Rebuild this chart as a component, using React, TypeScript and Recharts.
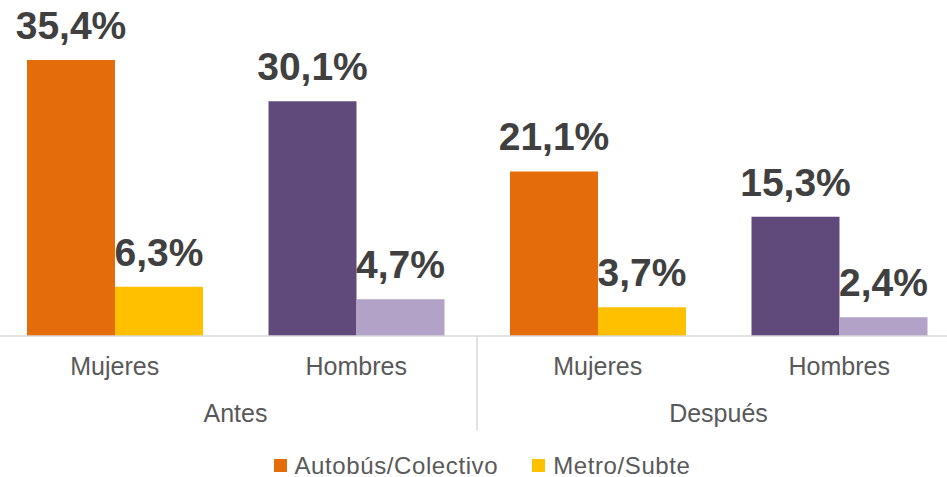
import React from 'react';
import { BarChart, Bar, XAxis, YAxis, LabelList, Legend, Cell } from 'recharts';

const sexes = ['Mujeres', 'Hombres', 'Mujeres', 'Hombres'];
const periods = ['Antes', 'Antes', 'Después', 'Después'];
const autobus = [35.4, 30.1, 21.1, 15.3];
const metro = [6.3, 4.7, 3.7, 2.4];
const seriesNames = ['Autobús/Colectivo', 'Metro/Subte'];
const busColors = ['#E46C0A', '#604A7B', '#E46C0A', '#604A7B'];
const metroColors = ['#FFC000', '#B3A2C7', '#FFC000', '#B3A2C7'];

const data = sexes.map((s, i) => ({
  sex: s,
  period: periods[i],
  bus: autobus[i],
  metro: metro[i],
}));

const FONT = '"Liberation Sans", Arial, sans-serif';
const fmt = (v: any) => `${String(Number(v).toFixed(1)).replace('.', ',')}%`;

const SexTick = (props: any) => {
  const { x, y, payload } = props;
  return (
    <text x={x} y={y + 39} textAnchor="middle" fill="#595959" fontSize={25} fontFamily={FONT}>
      {payload.value}
    </text>
  );
};

const PeriodTick = (props: any) => {
  const { x, y, payload, index } = props;
  const off = payload.offset || 0;
  return (
    <g>
      <text x={x} y={y + 40} textAnchor="middle" fill="#595959" fontSize={25} fontFamily={FONT}>
        {payload.value}
      </text>
      {index > 0 && (
        <line x1={x - off} x2={x - off} y1={y - 46} y2={y + 48} stroke="#d9d9d9" strokeWidth={1.5} />
      )}
    </g>
  );
};

const LegendContent = (props: any) => {
  const { payload } = props;
  return (
    <div style={{ height: 52, position: 'relative' }}>
      <div
        style={{
          position: 'absolute',
          top: 29,
          left: 0,
          right: 0,
          height: 23,
          display: 'flex',
          justifyContent: 'center',
          paddingLeft: 10,
          fontFamily: FONT,
          fontSize: 24,
          letterSpacing: '0.6px',
          color: '#595959',
          lineHeight: '23px',
          whiteSpace: 'nowrap',
        }}
      >
        {(payload || []).map((p: any, i: number) => (
          <div key={i} style={{ display: 'flex', alignItems: 'center', marginLeft: i > 0 ? 34 : 0 }}>
            <span style={{ width: 13, height: 13, background: p.color, display: 'inline-block', marginRight: 8 }} />
            <span>{p.value}</span>
          </div>
        ))}
      </div>
    </div>
  );
};

export default function App() {
  return (
    <div style={{ position: 'absolute', left: 0, top: 0, width: 947, height: 477, overflow: 'hidden', background: '#fff' }}>
      <div style={{ position: 'absolute', left: -6, top: 0 }}>
        <BarChart
          width={966}
          height={477}
          data={data}
          margin={{ top: 24, right: 0, bottom: 0, left: 0 }}
          barGap={0}
          barCategoryGap={33}
        >
          <XAxis
            xAxisId="a"
            dataKey="sex"
            allowDuplicatedCategory
            axisLine={{ stroke: '#d9d9d9', strokeWidth: 1.5 }}
            tickLine={false}
            tickSize={0}
            tickMargin={0}
            height={46}
            interval={0}
            tick={<SexTick />}
          />
          <XAxis
            xAxisId="b"
            dataKey="period"
            allowDuplicatedCategory={false}
            axisLine={false}
            tickLine={false}
            tickSize={0}
            tickMargin={0}
            height={43}
            interval={0}
            tick={<PeriodTick />}
          />
          <YAxis hide domain={[0, 40]} />
          <Legend verticalAlign="bottom" content={<LegendContent />} />
          <Bar xAxisId="a" dataKey="bus" name={seriesNames[0]} fill={busColors[0]} barSize={88} isAnimationActive={false}>
            {data.map((_, i) => (
              <Cell key={i} fill={busColors[i]} />
            ))}
            <LabelList dataKey="bus" position="top" offset={21} formatter={fmt} fill="#404040" fontSize={39} fontWeight="bold" fontFamily={FONT} />
          </Bar>
          <Bar xAxisId="a" dataKey="metro" name={seriesNames[1]} fill={metroColors[0]} barSize={88} isAnimationActive={false}>
            {data.map((_, i) => (
              <Cell key={i} fill={metroColors[i]} />
            ))}
            <LabelList dataKey="metro" position="top" offset={21} formatter={fmt} fill="#404040" fontSize={39} fontWeight="bold" fontFamily={FONT} />
          </Bar>
        </BarChart>
      </div>
    </div>
  );
}
